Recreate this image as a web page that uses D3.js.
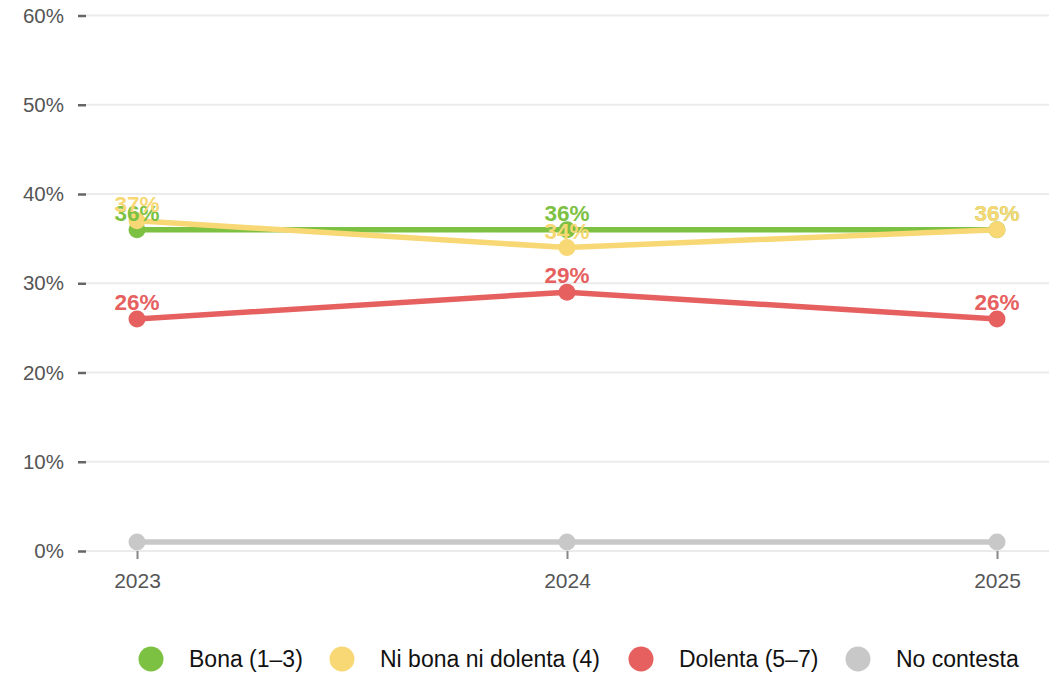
<!DOCTYPE html>
<html>
<head>
<meta charset="utf-8">
<script src="https://cdn.jsdelivr.net/npm/d3@7"></script>
<style>
  body { margin: 0; background: #fff; }
  svg { display: block; font-family: "Liberation Sans", Arial, sans-serif; }
</style>
</head>
<body>
<div id="chart"></div>
<script>
// chart data
const years = ['2023', '2024', '2025']
const seriesNames = ['Bona (1–3)', 'Ni bona ni dolenta (4)', 'Dolenta (5–7)', 'No contesta']
const seriesColors = ['#7cc142', '#f8d874', '#e66060', '#c8c8c8']
const bona = [36, 36, 36]
const niBona = [37, 34, 36]
const dolenta = [26, 29, 26]
const noContesta = [1, 1, 1]
const yTicks = [0, 10, 20, 30, 40, 50, 60]

const allValues = [bona, niBona, dolenta, noContesta]
const showLabels = [true, true, true, false]

const width = 1061, height = 675

const svg = d3.select('#chart')
  .append('svg')
  .attr('width', width)
  .attr('height', height)

const x = d3.scalePoint()
  .domain(years)
  .range([137, 997])

const y = d3.scaleLinear()
  .domain([0, 60])
  .range([551, 15.5])

// grid + y ticks
const grid = svg.append('g')
grid.selectAll('line.grid')
  .data(yTicks)
  .join('line')
  .attr('class', 'grid')
  .attr('x1', 86)
  .attr('x2', 1049)
  .attr('y1', d => y(d))
  .attr('y2', d => y(d))
  .attr('stroke', '#ebebeb')
  .attr('stroke-width', 2)

const yAxis = svg.append('g')
  .attr('transform', 'translate(86,0)')
  .call(d3.axisLeft(y).tickValues(yTicks).tickSize(8).tickPadding(14).tickFormat(d => d + '%'))
yAxis.select('.domain').remove()
yAxis.selectAll('.tick line').attr('stroke', '#666').attr('stroke-width', 2.5)
yAxis.selectAll('.tick text')
  .attr('fill', '#555')
  .style('font-size', '20.5px')
  .style('font-family', '"Liberation Sans", Arial, sans-serif')

const xAxis = svg.append('g')
  .attr('transform', 'translate(0,551)')
  .call(d3.axisBottom(x).tickSize(8).tickPadding(14))
xAxis.select('.domain').remove()
xAxis.selectAll('.tick line').attr('stroke', '#888').attr('stroke-width', 2)
xAxis.selectAll('.tick text')
  .attr('fill', '#555')
  .style('font-size', '21px')
  .style('font-family', '"Liberation Sans", Arial, sans-serif')

// lines, points and labels
const line = d3.line()
  .x((d, i) => x(years[i]))
  .y(d => y(d))

for (let s = 0; s < allValues.length; s++) {
  const g = svg.append('g')
  g.append('path')
    .datum(allValues[s])
    .attr('d', line)
    .attr('fill', 'none')
    .attr('stroke', seriesColors[s])
    .attr('stroke-width', 5.5)
  g.selectAll('circle')
    .data(allValues[s])
    .join('circle')
    .attr('cx', (d, i) => x(years[i]))
    .attr('cy', d => y(d))
    .attr('r', 8.5)
    .attr('fill', seriesColors[s])
}

for (let s = 0; s < allValues.length; s++) {
  if (!showLabels[s]) continue
  svg.append('g').selectAll('text')
    .data(allValues[s])
    .join('text')
    .attr('x', (d, i) => x(years[i]))
    .attr('y', d => y(d) - 9)
    .attr('text-anchor', 'middle')
    .attr('fill', seriesColors[s])
    .style('font-size', '22.5px')
    .style('font-weight', 'bold')
    .text(d => d + '%')
}

// legend
const legendX = [151, 342, 641, 858]
const legend = svg.append('g')
for (let s = 0; s < seriesNames.length; s++) {
  legend.append('circle')
    .attr('cx', legendX[s])
    .attr('cy', 659)
    .attr('r', 12.5)
    .attr('fill', seriesColors[s])
  legend.append('text')
    .attr('x', legendX[s] + 38)
    .attr('y', 667)
    .attr('fill', '#111')
    .style('font-size', '23px')
    .text(seriesNames[s])
}
</script>
</body>
</html>
